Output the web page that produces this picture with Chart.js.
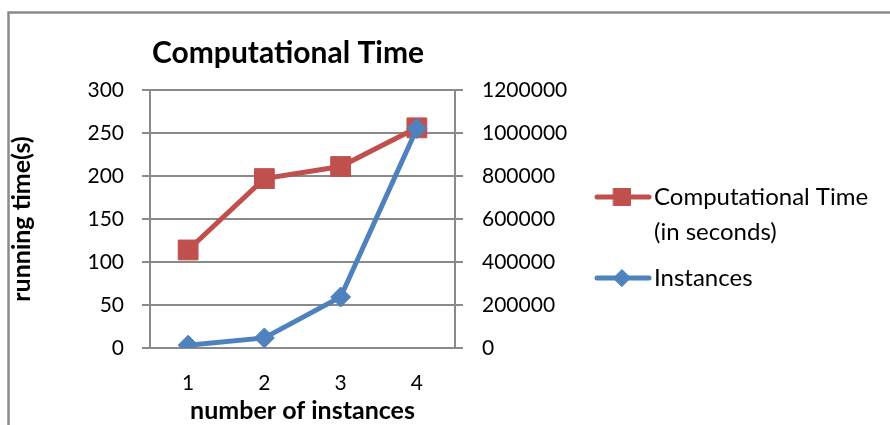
<!DOCTYPE html>
<html>
<head>
<meta charset="utf-8">
<script src="https://cdn.jsdelivr.net/npm/chart.js@4.4.1/dist/chart.umd.min.js"></script>
<style>
  html, body { margin: 0; padding: 0; background: #fff; }
  #wrap { width: 890px; height: 425px; }
</style>
</head>
<body>
<div id="wrap"><canvas id="Czas"></canvas></div>
<script>
// dane
var categories = ["1", "2", "3", "4"];
var computationalTime = [114, 197, 211, 256];
var instances = [13000, 47000, 237000, 1021000];
var timeLabel = ["Computational Time", "(in seconds)"];
var instancesLabel = ["Instances"];
var chartTitle = "Computational Time";
var yTitle = "running time(s)";
var xTitle = "number of instances";

var FONT = "Lato, 'Open Sans', sans-serif";
var GRID = "#8a8a8a";
var RED = "#c0504d";
var BLUE = "#4f81bd";

// ramka, tytul i legenda rysowane recznie
var extras = {
  id: "extras",
  beforeDraw: function (chart) {
    var ctx = chart.ctx;
    ctx.save();
    ctx.strokeStyle = GRID;
    ctx.lineWidth = 2.5;
    ctx.strokeRect(8.5, 12.5, 1000, 1000);
    ctx.restore();
  },
  afterDraw: function (chart) {
    var ctx = chart.ctx;
    ctx.save();
    ctx.fillStyle = "#000";
    ctx.font = "bold 30px " + FONT;
    ctx.textAlign = "center";
    ctx.textBaseline = "alphabetic";
    ctx.fillText(chartTitle, 288, 63);

    var rows = [197, 278];
    ctx.font = "24px " + FONT;
    ctx.textAlign = "left";
    ctx.textBaseline = "middle";
    chart.data.datasets.forEach(function (ds, i) {
      var y = rows[i];
      ctx.strokeStyle = ds.borderColor;
      ctx.lineWidth = ds.borderWidth;
      ctx.lineCap = "round";
      ctx.beginPath();
      ctx.moveTo(597, y);
      ctx.lineTo(649, y);
      ctx.stroke();
      ctx.fillStyle = ds.pointBackgroundColor;
      ctx.strokeStyle = ds.pointBorderColor;
      ctx.lineWidth = 1;
      Chart.helpers.drawPoint(ctx, {
        pointStyle: ds.pointStyle,
        radius: ds.legendRadius,
        rotation: 0,
        borderWidth: 1
      }, 622, y);
      ctx.fillStyle = "#000";
      var lines = ds.label;
      for (var k = 0; k < lines.length; k++) {
        ctx.fillText(lines[k], 654, y + k * 35);
      }
    });
    ctx.restore();
  }
};

new Chart(document.getElementById("Czas"), {
  type: "line",
  data: {
    labels: categories,
    datasets: [{
        label: timeLabel,
        data: computationalTime,
        yAxisID: "y",
        borderColor: RED,
        backgroundColor: RED,
        borderWidth: 5,
        pointStyle: "rect",
        pointRadius: 14,
        pointBackgroundColor: RED,
        pointBorderColor: RED,
        pointBorderWidth: 1,
        legendRadius: 12,
        order: 1,
        fill: false,
        tension: 0
      },
      {
        label: instancesLabel,
        data: instances,
        yAxisID: "y1",
        borderColor: BLUE,
        backgroundColor: BLUE,
        borderWidth: 5,
        pointStyle: "rectRot",
        pointRadius: 10,
        pointBackgroundColor: BLUE,
        pointBorderColor: BLUE,
        pointBorderWidth: 1,
        legendRadius: 8.5,
        order: 0,
        fill: false,
        tension: 0
      }
    ]
  },
  options: {
    responsive: true,
    maintainAspectRatio: false,
    animation: false,
    layout: { padding: { top: 90, left: 0, right: 0, bottom: 0 } },
    plugins: {
      legend: { display: false },
      title: { display: false },
      tooltip: { enabled: false }
    },
    scales: {
      x: {
        type: "category",
        offset: true,
        grid: { display: false, drawTicks: false },
        border: { display: true, color: GRID, width: 2 },
        ticks: { color: "#000", font: { family: FONT, size: 21 }, padding: 23 },
        title: {
          display: true,
          text: xTitle,
          color: "#000",
          font: { family: FONT, size: 25, weight: "bold", lineHeight: 1.1 },
          padding: { top: 0, bottom: 0 }
        },
        afterFit: function (s) { s.height = 77; }
      },
      y: {
        position: "left",
        min: 0,
        max: 300,
        grid: { color: GRID, lineWidth: 2, tickLength: 8 },
        border: { display: true, color: GRID, width: 2 },
        ticks: { stepSize: 50, color: "#000", font: { family: FONT, size: 21 }, padding: 18 },
        title: {
          display: true,
          text: yTitle,
          color: "#000",
          font: { family: FONT, size: 25, weight: "bold", lineHeight: 1.2 },
          padding: { top: 7, bottom: 0 }
        },
        afterFit: function (s) { s.width = 150; }
      },
      y1: {
        position: "right",
        min: 0,
        max: 1200000,
        grid: { drawOnChartArea: false, color: GRID, lineWidth: 2, tickLength: 8 },
        border: { display: true, color: GRID, width: 2 },
        ticks: {
          stepSize: 200000,
          color: "#000",
          font: { family: FONT, size: 21 },
          padding: 19,
          callback: function (v) { return String(v); }
        },
        afterFit: function (s) { s.width = 435; }
      }
    }
  },
  plugins: [extras]
});
</script>
</body>
</html>
